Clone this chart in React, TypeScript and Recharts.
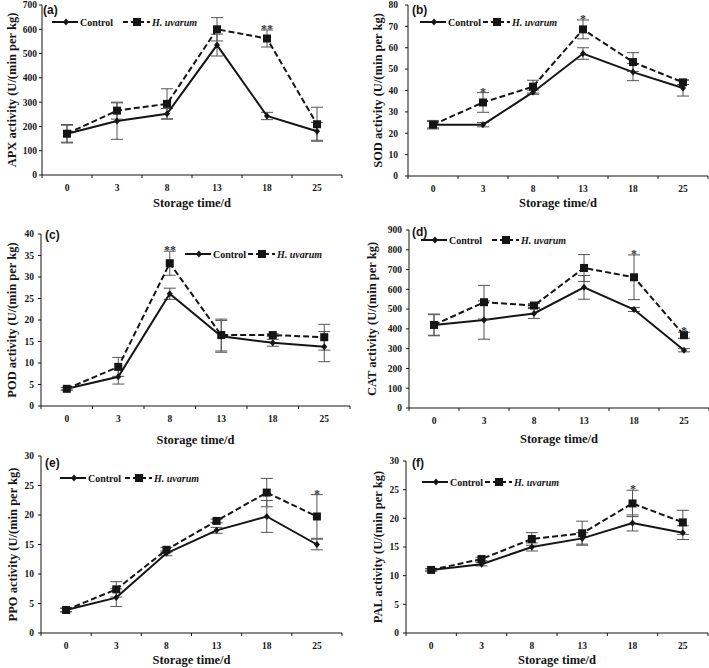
import React from 'react';
import { LineChart, Line, XAxis, YAxis, ErrorBar, LabelList, Label, Legend } from 'recharts';

const days = ['0', '3', '8', '13', '18', '25'];

// (a) APX
const apxControl = [170, 222, 252, 535, 243, 180];
const apxControlErr = [35, 75, 22, 45, 15, 37];
const apxUvarum = [170, 265, 293, 600, 562, 209];
const apxUvarumErr = [38, 35, 62, 48, 35, 70];
const apxStars = ['', '', '', '', '**', ''];
const apxTicks = [0, 100, 200, 300, 400, 500, 600, 700];

// (b) SOD
const sodControl = [24, 24, 39.2, 57.3, 48.6, 41.2];
const sodControlErr = [1.5, 1, 1, 2.7, 4, 3.8];
const sodUvarum = [24, 34.4, 41.8, 68.6, 53.3, 43.8];
const sodUvarumErr = [2, 4.6, 3, 4.4, 4.4, 1];
const sodStars = ['', '*', '', '*', '', ''];
const sodTicks = [0, 10, 20, 30, 40, 50, 60, 70, 80];

// (c) POD
const podControl = [4, 6.8, 26.1, 16.2, 14.7, 13.8];
const podControlErr = [0.3, 1.7, 1.3, 3.7, 0.8, 3.5];
const podUvarum = [4, 9.1, 33.2, 16.5, 16.5, 16.0];
const podUvarumErr = [0.3, 2.2, 2.8, 3.7, 0.3, 3];
const podStars = ['', '', '**', '', '', ''];
const podTicks = [0, 5, 10, 15, 20, 25, 30, 35, 40];

// (d) CAT
const catControl = [420, 445, 478, 610, 498, 292];
const catControlErr = [55, 97, 25, 60, 10, 8];
const catUvarum = [420, 535, 518, 708, 661, 368];
const catUvarumErr = [52, 85, 10, 68, 113, 15];
const catStars = ['', '', '', '', '*', '*'];
const catTicks = [0, 100, 200, 300, 400, 500, 600, 700, 800, 900];

// (e) PPO
const ppoControl = [3.9, 6.0, 13.5, 17.4, 19.75, 15.0];
const ppoControlErr = [0.3, 1.5, 0.4, 0.5, 2.7, 0.9];
const ppoUvarum = [3.9, 7.4, 14.1, 19.0, 23.8, 19.75];
const ppoUvarumErr = [0.3, 1.3, 0.4, 0.3, 2.4, 3.7];
const ppoStars = ['', '', '', '', '', '*'];
const ppoTicks = [0, 5, 10, 15, 20, 25, 30];

// (f) PAL
const palControl = [11, 12, 15, 16.5, 19.2, 17.5];
const palControlErr = [0.2, 0.3, 0.7, 1, 1.4, 1.2];
const palUvarum = [11, 12.9, 16.4, 17.4, 22.6, 19.3];
const palUvarumErr = [0.2, 0.3, 1.1, 2.1, 2.3, 2.1];
const palStars = ['', '', '', '', '*', ''];
const palTicks = [0, 5, 10, 15, 20, 25, 30];

const INK = '#151515';
const FONT = "'Liberation Serif', 'Times New Roman', serif";

const Diamond = (p: any) => {
  const { cx, cy, index } = p;
  if (cx == null || cy == null) return <g key={`d-${index}`} />;
  return (
    <path key={`d-${index}`} d={`M${cx},${cy - 3.5}L${cx + 3},${cy}L${cx},${cy + 3.5}L${cx - 3},${cy}Z`} fill={INK} />
  );
};

const Square = (p: any) => {
  const { cx, cy, index } = p;
  if (cx == null || cy == null) return <g key={`s-${index}`} />;
  return <rect key={`s-${index}`} x={cx - 4} y={cy - 4} width={8} height={8} fill={INK} />;
};

// significance mark sitting just above the top of the error bar
const StarDot = (p: any) => {
  const { cx, cy, index, payload } = p;
  if (cx == null || cy == null || !payload?.star) return <g key={`st-${index}`} />;
  return (
    <g key={`st-${index}`} opacity={0.99}>
      <text x={Math.round(cx)} y={Math.round(cy) + 3} textAnchor="middle" fontSize={12} fontWeight="bold" fontFamily={FONT} fill="#333">
        {payload.star}
      </text>
    </g>
  );
};

const LegendBox = ({ gap }: { gap: number }) => {
  const ds = 28 + 33 + gap;
  return (
    <svg width={170} height={14} style={{ display: 'block', overflow: 'visible' }}>
      <line x1={0} x2={26} y1={7} y2={7} stroke={INK} strokeWidth={2} />
      <path d="M14,3.5L17,7L14,10.5L11,7Z" fill={INK} />
      <text x={28} y={10.5} fontSize={10} fontWeight="bold" fontFamily={FONT} fill={INK}>Control</text>
      <line x1={ds} x2={ds + 27} y1={7} y2={7} stroke={INK} strokeWidth={2} strokeDasharray="5 3" />
      <rect x={ds + 10} y={3} width={8} height={8} fill={INK} />
      <text x={ds + 29} y={10.5} fontSize={10} fontWeight="bold" fontStyle="italic" fontFamily={FONT} fill={INK}>H. uvarum</text>
    </svg>
  );
};

type PanelProps = {
  tag: string;
  title: string;
  control: number[];
  controlErr: number[];
  uvarum: number[];
  uvarumErr: number[];
  stars: string[];
  ticks: number[];
  x0: number;
  plotLeft: number;
  plotTop: number;
  plotRight: number;
  plotBottom: number;
  titleX: number;
  xTitleDy: number;
  tickGap: number;
  legendX: number;
  legendY: number;
  legendGap: number;
  tagX: number;
  tagY: number;
};

function Panel(p: PanelProps) {
  const y0 = p.plotTop - 8;
  const rows = days.map((d, i) => ({
    day: d,
    c: p.control[i],
    cErr: p.controlErr[i],
    u: p.uvarum[i],
    uErr: p.uvarumErr[i],
    top: p.uvarum[i] + p.uvarumErr[i],
    star: p.stars[i],
  }));
  const width = p.plotRight + 2 - p.x0;
  const height = p.plotBottom + 44 - y0;
  const bw = (p.plotRight - p.plotLeft) / days.length;
  const midY = (p.plotTop + p.plotBottom) / 2 - y0;
  const midX = (p.plotLeft + p.plotRight) / 2 - p.x0;
  const max = p.ticks[p.ticks.length - 1];

  const xTick = (t: any) => {
    const { x, y, payload, index } = t;
    return (
      <g>
        <line x1={x - bw / 2} x2={x - bw / 2} y1={y} y2={y + 3} stroke={INK} strokeWidth={1} />
        {index === days.length - 1 && <line x1={x + bw / 2} x2={x + bw / 2} y1={y} y2={y + 3} stroke={INK} strokeWidth={1} />}
        <text x={x} y={y + 16} textAnchor="middle" fontSize={9.5} fontWeight="bold" fontFamily={FONT} fill={INK}>
          {payload.value}
        </text>
      </g>
    );
  };

  return (
    <div style={{ position: 'absolute', left: p.x0, top: y0 }}>
      <LineChart width={width} height={height} data={rows} margin={{ top: 8, right: 2, left: 0, bottom: 0 }}>
        <XAxis
          dataKey="day"
          height={44}
          interval={0}
          padding={{ left: bw / 2, right: bw / 2 }}
          tickLine={false}
          tickSize={0}
          tickMargin={0}
          axisLine={{ stroke: INK, strokeWidth: 1 }}
          tick={xTick}
          label={
            <Label
              content={() => (
                <text x={midX} y={p.plotBottom - y0 + p.xTitleDy} textAnchor="middle" fontSize={12.5} fontWeight="bold" fontFamily={FONT} fill={INK}>
                  Storage time/d
                </text>
              )}
            />
          }
        />
        <YAxis
          width={p.plotLeft - p.x0}
          domain={[0, max]}
          ticks={p.ticks}
          interval={0}
          tickSize={3}
          tickMargin={p.tickGap}
          axisLine={{ stroke: INK, strokeWidth: 1 }}
          tickLine={{ stroke: INK, strokeWidth: 1 }}
          tick={{ fontSize: 9.5, fontWeight: 'bold', fill: INK, fontFamily: FONT }}
          label={
            <Label
              content={() => (
                <text
                  x={p.titleX - p.x0}
                  y={midY}
                  transform={`rotate(-90 ${p.titleX - p.x0} ${midY})`}
                  textAnchor="middle"
                  dominantBaseline="central"
                  fontSize={12.5}
                  fontWeight="bold"
                  fontFamily={FONT}
                  fill={INK}
                >
                  {p.title}
                </text>
              )}
            />
          }
        />
        <Legend
          layout="horizontal"
          verticalAlign="middle"
          align="center"
          content={() => <LegendBox gap={p.legendGap} />}
          wrapperStyle={{ left: p.legendX - p.x0, top: p.legendY - y0 - 7, width: 170, height: 14 }}
        />
        <Line dataKey="c" stroke={INK} strokeWidth={2} dot={Diamond} activeDot={false} isAnimationActive={false}>
          <ErrorBar dataKey="cErr" direction="y" width={6} stroke="#555" strokeWidth={1} />
        </Line>
        <Line dataKey="u" stroke={INK} strokeWidth={2} strokeDasharray="6 3" dot={Square} activeDot={false} isAnimationActive={false}>
          <ErrorBar dataKey="uErr" direction="y" width={6} stroke="#555" strokeWidth={1} />
        </Line>
        <Line dataKey="top" stroke="none" dot={StarDot} activeDot={false} legendType="none" isAnimationActive={false} />
      </LineChart>
      <div
        style={{
          position: 'absolute',
          left: p.tagX - p.x0,
          top: p.tagY - y0 - 8,
          fontFamily: "'Liberation Sans', Arial, sans-serif",
          fontWeight: 'bold',
          fontSize: 12,
          lineHeight: '16px',
          color: INK,
        }}
      >
        {p.tag}
      </div>
    </div>
  );
}

export default function App() {
  return (
    <div style={{ position: 'absolute', left: 0, top: 0, width: 709, height: 668, overflow: 'hidden', background: '#fff', fontFamily: FONT }}>
      <Panel tag="(a)" title="APX activity (U/(min per kg)" control={apxControl} controlErr={apxControlErr} uvarum={apxUvarum} uvarumErr={apxUvarumErr} stars={apxStars} ticks={apxTicks}
        x0={0} plotLeft={42} plotTop={5} plotRight={342} plotBottom={175} titleX={12} xTitleDy={32} tickGap={2}
        legendX={52} legendY={21.5} legendGap={10} tagX={43} tagY={10} />
      <Panel tag="(b)" title="SOD activity (U/(min per kg)" control={sodControl} controlErr={sodControlErr} uvarum={sodUvarum} uvarumErr={sodUvarumErr} stars={sodStars} ticks={sodTicks}
        x0={350} plotLeft={408} plotTop={5} plotRight={708} plotBottom={176} titleX={378} xTitleDy={31} tickGap={7}
        legendX={420} legendY={22} legendGap={2} tagX={412} tagY={10} />
      <Panel tag="(c)" title="POD activity (U/(min per kg)" control={podControl} controlErr={podControlErr} uvarum={podUvarum} uvarumErr={podUvarumErr} stars={podStars} ticks={podTicks}
        x0={0} plotLeft={41} plotTop={234} plotRight={350} plotBottom={406} titleX={12} xTitleDy={38} tickGap={4}
        legendX={185} legendY={254} legendGap={2} tagX={45} tagY={235} />
      <Panel tag="(d)" title="CAT activity (U/(min per kg)" control={catControl} controlErr={catControlErr} uvarum={catUvarum} uvarumErr={catUvarumErr} stars={catStars} ticks={catTicks}
        x0={350} plotLeft={409} plotTop={230} plotRight={709} plotBottom={408} titleX={372} xTitleDy={35} tickGap={4}
        legendX={421} legendY={240} legendGap={10} tagX={412} tagY={232} />
      <Panel tag="(e)" title="PPO activity (U/(min per kg)" control={ppoControl} controlErr={ppoControlErr} uvarum={ppoUvarum} uvarumErr={ppoUvarumErr} stars={ppoStars} ticks={ppoTicks}
        x0={0} plotLeft={41} plotTop={456} plotRight={342} plotBottom={633} titleX={13} xTitleDy={31} tickGap={4}
        legendX={60} legendY={478} legendGap={4} tagX={45} tagY={463} />
      <Panel tag="(f)" title="PAL activity (U/(min per kg)" control={palControl} controlErr={palControlErr} uvarum={palUvarum} uvarumErr={palUvarumErr} stars={palStars} ticks={palTicks}
        x0={350} plotLeft={406} plotTop={461} plotRight={708} plotBottom={633} titleX={378} xTitleDy={31} tickGap={4}
        legendX={422} legendY={482} legendGap={2} tagX={412} tagY={463} />
    </div>
  );
}
